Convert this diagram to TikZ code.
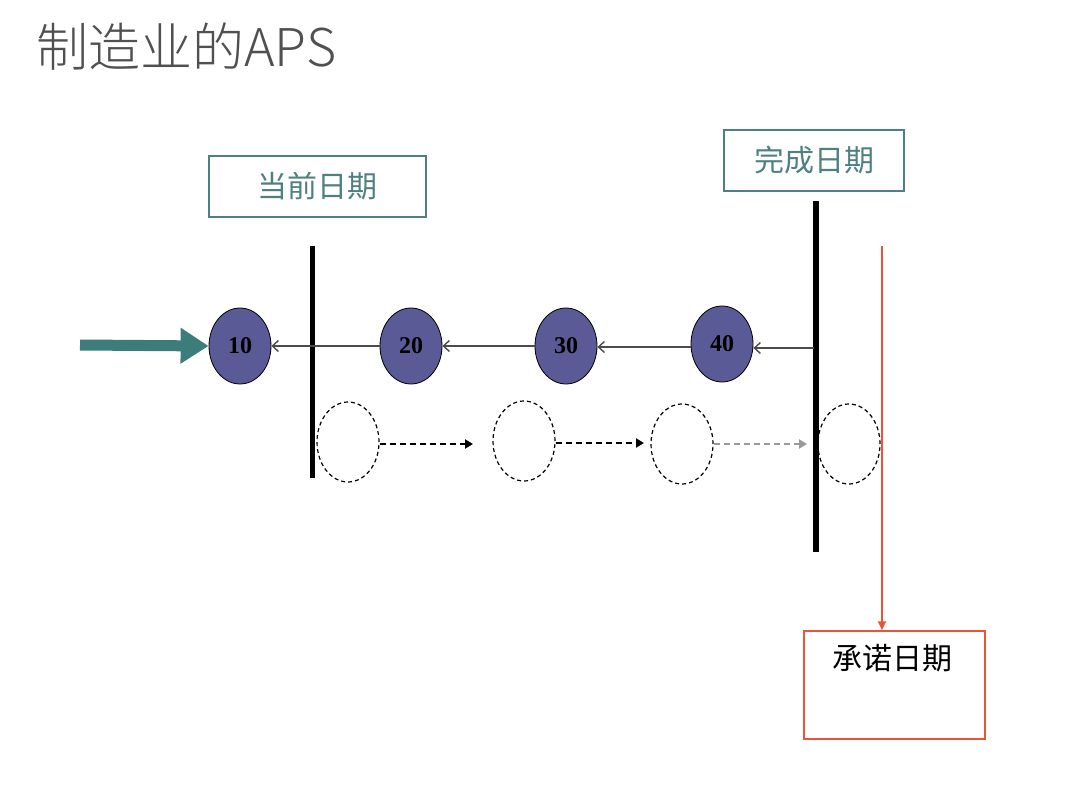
\documentclass[tikz,border=0pt]{standalone}
\usepackage{fontspec}
\setmainfont{Liberation Serif}
\newfontfamily\cjk{Noto Sans CJK SC}
\newfontfamily\cjklight{Noto Sans CJK SC Light}
\usetikzlibrary{arrows.meta,shapes.geometric}
\definecolor{teal1}{HTML}{4E8080}
\definecolor{tealarrow}{HTML}{3C7D7B}
\definecolor{slate}{HTML}{5A5A96}
\definecolor{redline}{HTML}{E8553A}
\definecolor{titlegray}{HTML}{505050}
\tikzset{
  datebox/.style={draw=teal1, line width=1.5pt, minimum width=217pt, minimum height=61pt, font=\cjk\fontsize{30}{34}\selectfont, text=teal1},
  opnode/.style={ellipse, draw=black, line width=0.8pt, fill=slate, minimum width=62pt, minimum height=76pt, inner sep=0pt, font=\bfseries\fontsize{24}{26}\selectfont},
  ghost/.style={ellipse, draw=black, dash pattern=on 4pt off 3pt, line width=1.2pt, minimum width=62pt, minimum height=80pt, inner sep=0pt},
  backarrow/.style={draw=black!70, line width=1.4pt, -{Straight Barb[length=6pt,width=11pt]}},
  fwdarrow/.style={draw=black, dash pattern=on 6pt off 4pt, line width=2pt, -{Triangle[length=8pt,width=9pt]}},
  bar/.style={line width=5pt, black},
}
\begin{document}
\begin{tikzpicture}[x=1pt,y=-1pt]
\useasboundingbox (0,0) rectangle (1080,810);
% title
\node[anchor=base west, inner sep=0pt, text=titlegray, font=\cjklight\fontsize{52}{56}\selectfont] (title) at (36,67) {制造业的APS};
% boxes
\node[datebox] (cur) at (317.5,186.5) {当前日期};
\node[datebox, minimum width=180pt] (fin) at (814,160.5) {完成日期};
\node[draw=redline, line width=1.5pt, minimum width=181pt, minimum height=108pt] (prom) at (894.5,685) {};
\node[font=\cjk\fontsize{30}{34}\selectfont, text=black] (promtxt) at (892,658) {承诺日期};
% bars
\coordinate (b1t) at (312,246); \coordinate (b1b) at (312,478);
\coordinate (b2t) at (816,201); \coordinate (b2b) at (816,552);
\draw[bar] (b1t) -- (b1b);
\draw[bar, line width=6pt] (b2t) -- (b2b);
% red line
\coordinate (rtop) at (882,246);
\draw[redline, line width=2pt, -{Triangle[length=9pt,width=8pt]}] (rtop) -- (prom.north -| rtop);
% operations
\node[opnode] (n10) at (240,346) {10};
\node[opnode] (n20) at (411,346) {20};
\node[opnode] (n30) at (566,346) {30};
\node[opnode] (n40) at (722,344) {40};
\coordinate (b2m) at (814,348);
\draw[backarrow] (b2m) -- (n40.east |- b2m);
\draw[backarrow] (n40.west |- 0,347) -- (n30.east |- 0,347);
\draw[backarrow] (n30.west |- 0,346) -- (n20.east |- 0,346);
\draw[backarrow] (n20.west) -- (n10.east);
% teal arrow
\coordinate (ta) at (80,345);
\draw[tealarrow, line width=11pt, -{Triangle[length=28pt,width=34pt]}] (ta) -- (n10.west);
% ghosts
\node[ghost] (g1) at (348,442) {};
\node[ghost] (g2) at (524,441) {};
\node[ghost] (g3) at (682,444) {};
\node[ghost] (g4) at (849,444) {};
\coordinate (a1) at (473,444); \coordinate (a2) at (644,443); \coordinate (a3) at (807,444);
\draw[fwdarrow] (g1.east |- a1) -- (a1);
\draw[fwdarrow] (g2.east |- a2) -- (a2);
\draw[fwdarrow, draw=black!40] (g3.east |- a3) -- (a3);
\end{tikzpicture}
\end{document}
